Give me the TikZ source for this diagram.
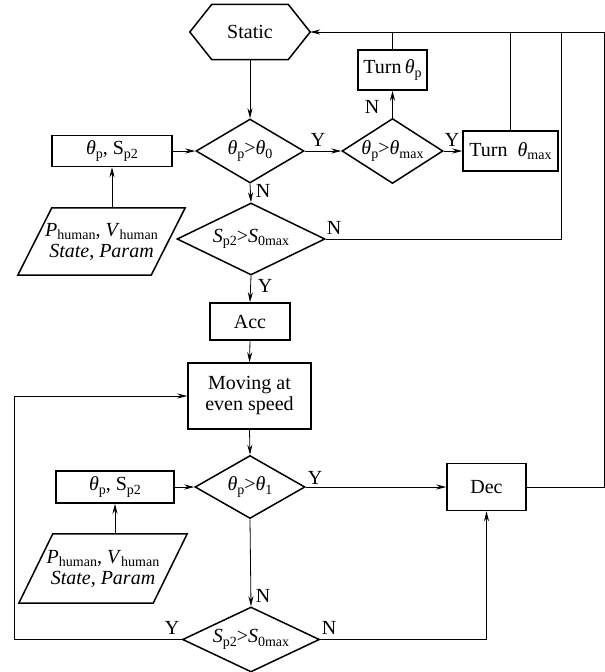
\documentclass[tikz,border=0pt]{standalone}
\usepackage{fontspec}
\setmainfont{Liberation Serif}
\usetikzlibrary{shapes.geometric,arrows.meta,calc}

% subscript in upright type, slightly lowered
\newcommand\sbs[1]{\raisebox{-0.4ex}{\fontsize{14}{14}\selectfont #1}}
\newcommand\thet{\textit{θ}}

\tikzset{
  shapeline/.style={line width=1.5pt},
  procbox/.style={draw, shapeline, rectangle, inner sep=0pt},
  testbox/.style={draw, shapeline, diamond, inner sep=0pt, aspect=1},
  framebox/.style={rectangle, inner sep=0pt},
  conn/.style={line width=0.8pt, -{Stealth[length=10pt,width=5pt]}},
  plainline/.style={line width=0.8pt},
  lbl/.style={inner sep=0pt},
}

\begin{document}
\begin{tikzpicture}[x=1pt,y=-1pt,font=\fontsize{20}{21}\selectfont]
\useasboundingbox (0,0) rectangle (605,672);

% ---------- upper part: turning ----------
\node[framebox, minimum width=120, minimum height=55] (st) at (250,32) {Static};
\draw[shapeline] (st.west) -- ($(st.north west)+(22,0)$) -- ($(st.north east)+(-22,0)$)
  -- (st.east) -- ($(st.south east)+(-22,0)$) -- ($(st.south west)+(22,0)$) -- cycle;

\node[testbox, minimum width=108, minimum height=64] (d1) at (250,151)
  {\makebox[0pt]{\thet\sbs{p}>\thet\sbs{0}}};
\node[testbox, minimum width=101, minimum height=65] (d2) at (392.5,151)
  {\makebox[0pt]{\thet\sbs{p}>\thet\sbs{max}}};
\node[procbox, minimum width=69, minimum height=40] (tp) at (392.5,70) {Turn\,\thet\sbs{p}};
\node[procbox, minimum width=95, minimum height=40] (tm) at (510.5,151) {Turn\ \ \thet\sbs{max}};

\node[procbox, minimum width=120, minimum height=31] (p1) at (112,151) {\thet\sbs{p}, S\sbs{p2}};
\node[framebox, minimum width=167, minimum height=67, align=center] (in1) at (101.5,241.5)
  {\textit{P}\sbs{human}, \textit{V}\sbs{human}\\\textit{State}, \textit{Param}};
\draw[shapeline] (in1.south west) -- ($(in1.north west)+(34,0)$) -- (in1.north east)
  -- ($(in1.south east)+(-34,0)$) -- cycle;

\node[testbox, minimum width=148, minimum height=72] (d3) at (251,239)
  {\makebox[0pt]{\textit{S}\sbs{p2}>\textit{S}\sbs{0max}}};

% ---------- middle part: moving ----------
\node[procbox, minimum width=80, minimum height=37] (acc) at (250,321.5) {Acc};
\node[procbox, minimum width=123, minimum height=66, align=center] (mv) at (249.5,396)
  {Moving at\\even speed};

% ---------- lower part: slowing down ----------
\node[testbox, minimum width=110, minimum height=63] (d4) at (250,487)
  {\makebox[0pt]{\thet\sbs{p}>\thet\sbs{1}}};
\node[procbox, minimum width=118, minimum height=32] (p2) at (115,487) {\thet\sbs{p}, S\sbs{p2}};
\node[framebox, minimum width=168, minimum height=69, align=center] (in2) at (103,568.5)
  {\textit{P}\sbs{human}, \textit{V}\sbs{human}\\\textit{State}, \textit{Param}};
\draw[shapeline] (in2.south west) -- ($(in2.north west)+(34,0)$) -- (in2.north east)
  -- ($(in2.south east)+(-34,0)$) -- cycle;
\node[procbox, minimum width=79, minimum height=47] (dec) at (486.5,487) {Dec};
\node[testbox, minimum width=137, minimum height=65] (d5) at (251,639.5)
  {\makebox[0pt]{\textit{S}\sbs{p2}>\textit{S}\sbs{0max}}};

% ---------- junction points of the return lines ----------
\coordinate (rx) at (604,32);
\coordinate (jx) at (561,32);
\coordinate (lx) at (14,639.5);

% ---------- connectors ----------
\draw[conn] (st.south) -- (d1.north);
\draw[conn] (p1.east) -- (d1.west);
\draw[conn] (p1.south |- in1.north) -- (p1.south);
\draw[conn] (d1.east) -- (d2.west);
\draw[conn] (d1.south) -- (d3.north);
\draw[conn] (d2.north) -- (tp.south);
\draw[conn] (d2.east) -- (tm.west);
\draw[plainline] (tp.north) -- (tp.north |- rx);
\draw[plainline] (tm.north) -- (tm.north |- rx);
\draw[plainline] (d3.east) -| (jx);
\draw[conn] (d3.south) -- (acc.north);
\draw[conn] (acc.south) -- (mv.north);
\draw[conn] (mv.south) -- (d4.north);
\draw[conn] (p2.east) -- (d4.west);
\draw[conn] (p2.south |- in2.north) -- (p2.south);
\draw[conn] (d4.east) -- (dec.west);
\draw[conn] (d4.south) -- (d5.north);
\draw[conn] (d5.east) -| (dec.south);
\draw[conn] (d5.west) -- (lx) |- (mv.west);
\draw[conn] (dec.east) -| (rx) -- (st.east);

% ---------- branch labels ----------
\node[lbl] (y1) at (318,140) {Y};
\node[lbl] (n1) at (263,191) {N};
\node[lbl] (n2) at (372,107) {N};
\node[lbl] (y2) at (452,140) {Y};
\node[lbl] (n3) at (334,228) {N};
\node[lbl] (y3) at (265,286) {Y};
\node[lbl] (y4) at (315,478) {Y};
\node[lbl] (n4) at (263,596) {N};
\node[lbl] (y5) at (172,628) {Y};
\node[lbl] (n5) at (329,628) {N};
\end{tikzpicture}
\end{document}
